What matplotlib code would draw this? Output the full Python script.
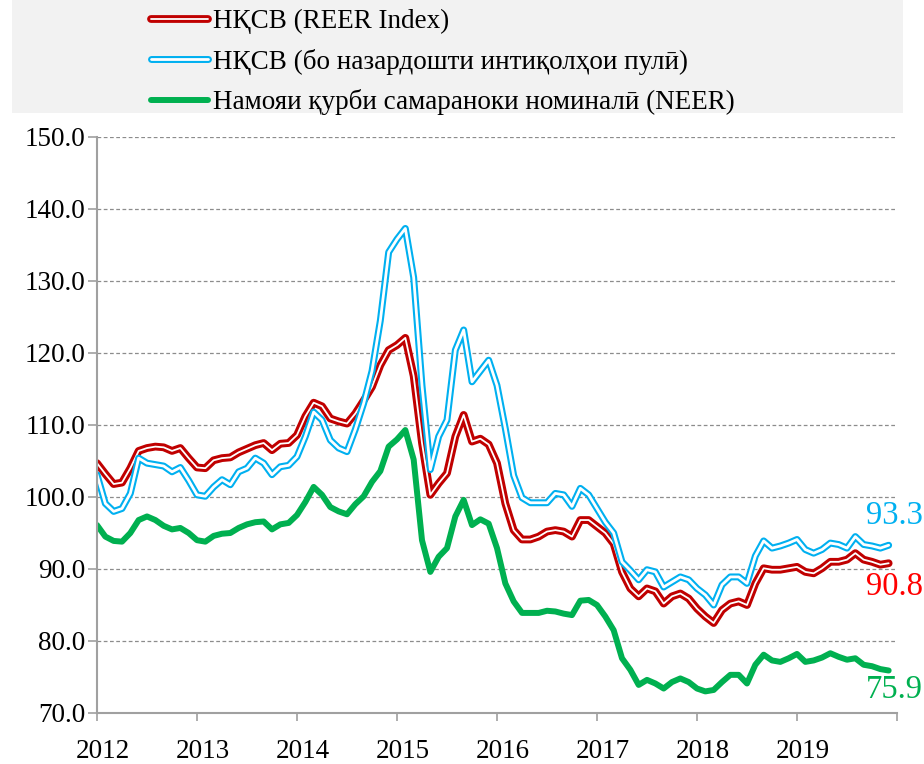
import numpy as np
import matplotlib.pyplot as plt
from matplotlib.patches import Rectangle
from matplotlib.legend_handler import HandlerTuple

plt.rcParams['font.family'] = ['Liberation Serif', 'DejaVu Serif']

# Data (monthly, Jan 2012 - Dec 2019)
years = ['2012', '2013', '2014', '2015', '2016', '2017', '2018', '2019']

reer = [104.7, 103.2, 101.8, 102.0, 104.0, 106.4, 106.8, 107.0, 106.9, 106.4, 106.8, 105.4,
        104.1, 104.0, 105.1, 105.4, 105.5, 106.2, 106.7, 107.2, 107.5, 106.5, 107.4, 107.5,
        108.6, 111.2, 113.1, 112.6, 110.9, 110.5, 110.2, 111.6, 113.4, 115.3, 118.3, 120.4,
        121.1, 122.1, 116.8, 107.5, 100.3, 101.9, 103.3, 108.4, 111.4, 107.7, 108.1, 107.3,
        104.7, 99.1, 95.4, 94.1, 94.1, 94.5, 95.2, 95.4, 95.2, 94.5, 96.8, 96.8,
        95.9, 95.0, 93.5, 89.6, 87.3, 86.2, 87.3, 86.9, 85.2, 86.2, 86.6, 85.9,
        84.5, 83.4, 82.5, 84.3, 85.2, 85.5, 85.0, 88.0, 90.1, 89.9, 89.9, 90.1,
        90.3, 89.6, 89.4, 90.1, 91.0, 91.0, 91.3, 92.2, 91.3, 91.0, 90.6, 90.8]

reer_remit = [103.1, 99.1, 98.0, 98.4, 100.5, 105.4, 104.7, 104.5, 104.3, 103.5, 104.1, 102.3,
              100.3, 100.1, 101.4, 102.4, 101.7, 103.5, 104.0, 105.4, 104.7, 103.1, 104.2, 104.4,
              105.6, 108.4, 111.8, 110.7, 107.9, 106.8, 106.3, 109.4, 113.0, 117.5, 124.5, 134.0,
              135.8, 137.3, 130.5, 115.5, 103.8, 108.4, 110.7, 120.4, 123.2, 116.0, 117.5, 119.0,
              115.5, 109.5, 103.0, 99.9, 99.2, 99.2, 99.2, 100.5, 100.3, 98.7, 101.2, 100.3,
              98.4, 96.5, 95.0, 91.0, 89.8, 88.5, 89.9, 89.6, 87.5, 88.2, 88.9, 88.5,
              87.3, 86.4, 85.0, 87.8, 88.9, 88.9, 88.0, 91.8, 93.9, 92.9, 93.2, 93.6,
              94.1, 92.7, 92.2, 92.7, 93.6, 93.4, 92.9, 94.5, 93.4, 93.2, 92.9, 93.3]

neer = [96.1, 94.5, 93.9, 93.8, 95.0, 96.8, 97.3, 96.8, 96.0, 95.5, 95.7, 95.0,
        94.0, 93.8, 94.6, 94.9, 95.0, 95.7, 96.2, 96.5, 96.6, 95.5, 96.2, 96.4,
        97.5, 99.3, 101.4, 100.3, 98.6, 98.0, 97.6, 99.0, 100.1, 102.1, 103.6, 107.0,
        108.0, 109.3, 105.2, 94.0, 89.6, 91.7, 92.9, 97.3, 99.6, 96.1, 96.9, 96.3,
        92.9, 88.0, 85.5, 83.9, 83.9, 83.9, 84.2, 84.1, 83.8, 83.6, 85.6, 85.7,
        85.0, 83.4, 81.5, 77.6, 76.0, 73.9, 74.6, 74.1, 73.4, 74.3, 74.8, 74.3,
        73.4, 73.0, 73.2, 74.3, 75.3, 75.3, 74.1, 76.7, 78.1, 77.3, 77.1, 77.6,
        78.2, 77.1, 77.3, 77.7, 78.3, 77.8, 77.4, 77.6, 76.7, 76.5, 76.1, 75.9]

labels = ['НҚСВ (REER Index)',
          'НҚСВ (бо назардошти интиқолҳои пулӣ)',
          'Намояи қурби самараноки номиналӣ (NEER)']

red = '#C00000'
blue = '#00B0F0'
green = '#00B050'

x = np.arange(len(reer))

fig = plt.figure(figsize=(9.24, 7.64), dpi=100)
fig.patches.append(Rectangle((12 / 924, 1 - 113 / 764), 891 / 924, 113 / 764,
                             transform=fig.transFigure, facecolor='#F2F2F2',
                             edgecolor='none', zorder=0))
ax = fig.add_axes([97 / 924, 1 - 713 / 764, 800 / 924, 576 / 764])

# double lines: coloured outer line with a white stripe on top
kw = dict(solid_capstyle='round', solid_joinstyle='round')
r1, = ax.plot(x, reer, color=red, lw=5.6, **kw)
r2, = ax.plot(x, reer, color='white', lw=1.3, **kw)
b1, = ax.plot(x, reer_remit, color=blue, lw=5.0, **kw)
b2, = ax.plot(x, reer_remit, color='white', lw=2.0, **kw)
g1, = ax.plot(x, neer, color=green, lw=4.3, **kw)

ax.set_xlim(0, 96)
ax.set_ylim(70, 150)
ax.set_yticks(np.arange(70, 151, 10))
ax.set_yticklabels([f'{v:.1f}' for v in np.arange(70, 151, 10)])
ax.set_xticks(np.arange(0, 97, 12))
ax.set_xticklabels([])
ax.set_xticks(np.arange(0, 96, 12) + 0.7, minor=True)
ax.set_xticklabels(years, minor=True)

ax.tick_params(axis='y', length=6.5, width=1.2, color='#A0A0A0', pad=2, labelsize=19.5)
ax.tick_params(axis='x', which='major', length=6, width=1.2, color='#A0A0A0')
ax.tick_params(axis='x', which='minor', length=0, pad=19, labelsize=19.5)

ax.grid(axis='y', color='#8C8C8C', lw=0.9, linestyle=(0, (3, 2)))
ax.set_axisbelow(True)
for s in ['top', 'right']:
    ax.spines[s].set_visible(False)
for s in ['left', 'bottom']:
    ax.spines[s].set_color('#A0A0A0')
    ax.spines[s].set_linewidth(1.5)

# end values
ax.text(92.3, 97.4, f'{reer_remit[-1]:.1f}', color=blue, fontsize=23.5, va='center', ha='left', clip_on=False)
ax.text(92.3, 87.6, f'{reer[-1]:.1f}', color='#FF0000', fontsize=23.5, va='center', ha='left', clip_on=False)
ax.text(92.3, 73.2, f'{neer[-1]:.1f}', color=green, fontsize=23.5, va='center', ha='left', clip_on=False)

fig.legend([(r1, r2), (b1, b2), g1], labels, loc='upper left',
           bbox_to_anchor=(151 / 924, 1 - 9 / 764), frameon=False, fontsize=19.5,
           handlelength=2.1, handletextpad=0.2, labelspacing=0.54,
           borderpad=0, borderaxespad=0,
           handler_map={tuple: HandlerTuple(ndivide=1)})

fig.savefig('out.png', dpi=100)
